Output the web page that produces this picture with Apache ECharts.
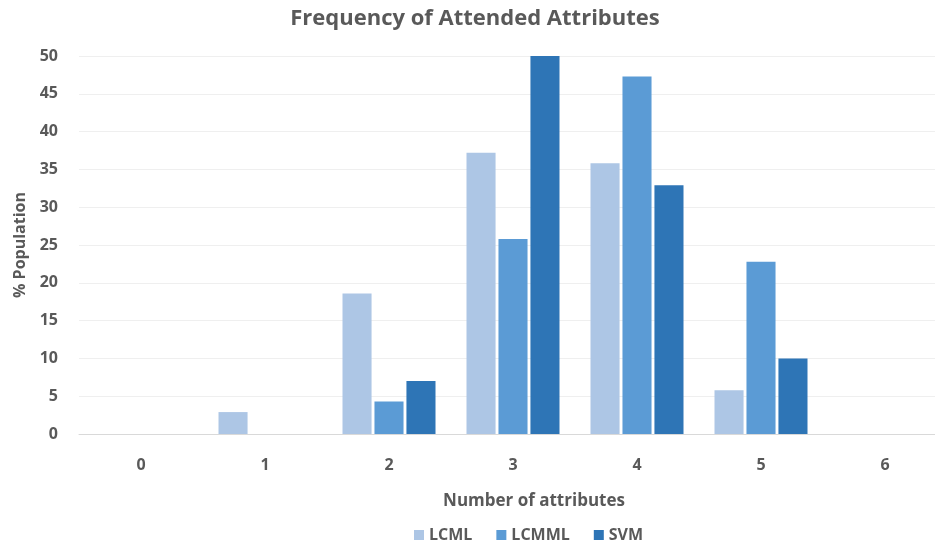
<!DOCTYPE html>
<html>
<head>
<meta charset="utf-8">
<script src="https://cdn.jsdelivr.net/npm/echarts@6/dist/echarts.min.js"></script>
<style>
  html, body { margin: 0; padding: 0; background: #fff; overflow: hidden; }
  /* plot area runs slightly past the right edge of the page */
  #chart { width: 950px; height: 548px; }
</style>
</head>
<body>
<div id="chart"></div>
<script>
// Number of attended attributes (x categories)
const categories = ['0', '1', '2', '3', '4', '5', '6'];
// % of population per model
const lcml  = [0, 2.9, 18.6, 37.2, 35.8, 5.8, 0];
const lcmml = [0, 0, 4.3, 25.8, 47.3, 22.8, 0];
const svm   = [0, 0, 7.0, 50.0, 32.9, 10.0, 0];

const textColor = '#595959';
const font = '"Open Sans", "Liberation Sans", sans-serif';

const chart = echarts.init(document.getElementById('chart'));

function barSeries(name, data, color) {
  return {
    name: name,
    type: 'bar',
    data: data,
    barGap: '10%',
    barCategoryGap: '25%',
    itemStyle: { color: color }
  };
}

chart.setOption({
  animation: false,
  textStyle: { fontFamily: font },
  title: {
    text: 'Frequency of Attended Attributes',
    left: 'center',
    top: 3,
    textStyle: { color: textColor, fontSize: 22, fontWeight: 'bold', fontFamily: font }
  },
  legend: {
    data: ['LCML', 'LCMML', 'SVM'],
    left: 409,
    top: 522,
    itemWidth: 10,
    itemHeight: 10,
    itemGap: 24,
    icon: 'rect',
    textStyle: { color: textColor, fontSize: 16, fontWeight: 'bold', fontFamily: font }
  },
  grid: { left: 79, right: 3, top: 56, bottom: 114 },
  xAxis: {
    type: 'category',
    data: categories,
    name: 'Number of attributes',
    nameLocation: 'middle',
    nameGap: 59,
    nameTextStyle: { color: textColor, fontSize: 17, fontWeight: 'bold', padding: [0, 0, 0, 42] },
    axisLine: { lineStyle: { color: '#d9d9d9', width: 1 } },
    axisTick: { show: false },
    axisLabel: { color: textColor, fontSize: 16, fontWeight: 'bold', margin: 23 }
  },
  yAxis: {
    type: 'value',
    min: 0,
    max: 50,
    interval: 5,
    name: '% Population',
    nameLocation: 'middle',
    nameGap: 50,
    nameTextStyle: { color: textColor, fontSize: 16, fontWeight: 'bold' },
    axisLine: { show: false },
    axisTick: { show: false },
    axisLabel: { color: textColor, fontSize: 16, fontWeight: 'bold', margin: 21 },
    splitLine: { lineStyle: { color: '#efefef', width: 1 } }
  },
  series: [
    barSeries('LCML', lcml, '#adc6e5'),
    barSeries('LCMML', lcmml, '#5b9bd5'),
    barSeries('SVM', svm, '#2e75b6')
  ]
});
</script>
</body>
</html>
